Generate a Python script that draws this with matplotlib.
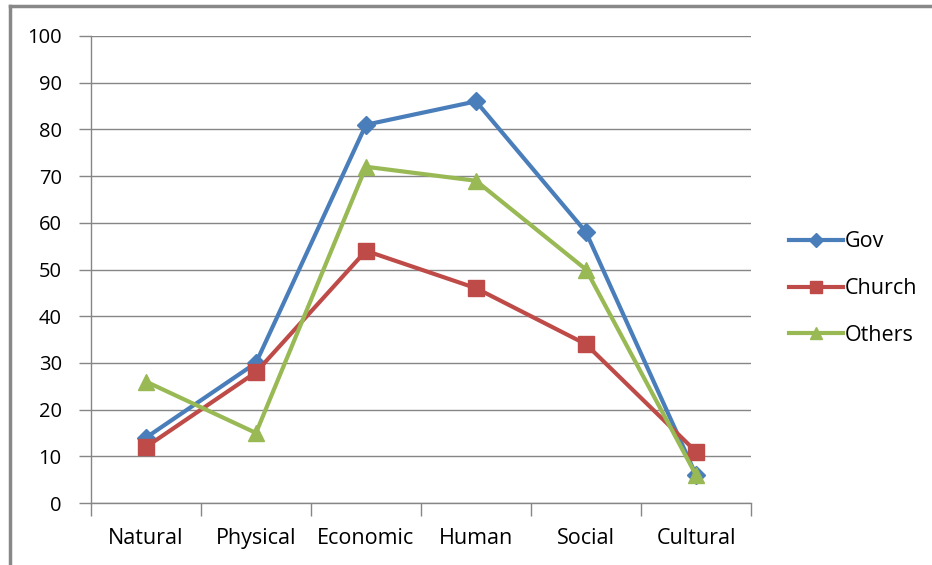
import matplotlib.pyplot as plt
from matplotlib.lines import Line2D

categories = ["Natural", "Physical", "Economic", "Human", "Social", "Cultural"]
gov = [14, 30, 81, 86, 58, 6]
church = [12, 28, 54, 46, 34, 11]
others = [26, 15, 72, 69, 50, 6]
yticks = list(range(0, 101, 10))

plt.rcParams['font.family'] = ['Open Sans', 'DejaVu Sans']
grid_col = '#868686'
fs = 15.5

fig = plt.figure(figsize=(9.32, 5.65), dpi=100)
ax = fig.add_axes([0.0976, 0.1097, 0.7082, 0.8266])

x = list(range(len(categories)))
series = [
    ("Gov", gov, '#4A7EBB', 'D', 9),
    ("Church", church, '#BE4B48', 's', 11),
    ("Others", others, '#98B954', '^', 12),
]
for name, vals, col, mk, ms in series:
    ax.plot(x, vals, color=col, lw=3, marker=mk, ms=ms, label=name, zorder=3)

ax.set_xlim(-0.5, len(categories) - 0.5)
ax.set_ylim(0, 100)
ax.set_yticks(yticks)
ax.set_yticklabels([str(v) for v in yticks], fontsize=14.5)
ax.set_xticks(x)
ax.set_xticklabels(categories, fontsize=fs)
ax.set_xticks([i - 0.5 for i in range(len(categories) + 1)], minor=True)
ax.tick_params(axis='x', which='major', length=0, pad=18)
ax.tick_params(axis='x', which='minor', length=9, color=grid_col, width=1)
ax.tick_params(axis='y', length=9, color=grid_col, width=1, pad=12)
ax.grid(axis='y', color=grid_col, lw=1)
ax.set_axisbelow(True)
for s in ['top', 'right']:
    ax.spines[s].set_visible(False)
for s in ['left', 'bottom']:
    ax.spines[s].set_color(grid_col)
    ax.spines[s].set_linewidth(1)

handles = [Line2D([], [], color=c, lw=3, marker=m, ms=ms * 0.75) for _, _, c, m, ms in series]
fig.legend(handles, [s[0] for s in series], loc='upper left',
           bbox_to_anchor=(0.826, 0.625), frameon=False, fontsize=fs,
           handlelength=2.5, handletextpad=0.1, labelspacing=1.2)

# outer frame: top and left edges only
fig.add_artist(Line2D([10 / 932, 10 / 932], [0, 1 - 6 / 565], color='#888888', lw=2.5,
                      transform=fig.transFigure))
fig.add_artist(Line2D([10 / 932, 1], [1 - 6 / 565, 1 - 6 / 565], color='#888888', lw=2.5,
                      transform=fig.transFigure))

fig.savefig("out.png", dpi=100)
